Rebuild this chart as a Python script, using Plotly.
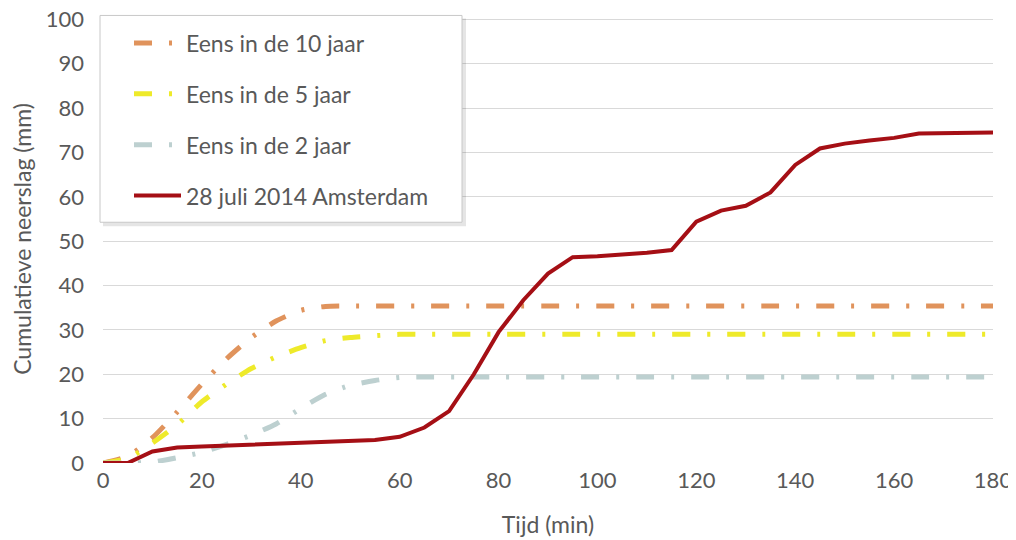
import plotly.graph_objects as go

# Time axis (minutes)
minutes = list(range(0, 185, 5))

# Design storms (cumulative precipitation, mm)
eens_10 = [0, 1.5, 5.7, 11.5, 17.8, 23.5, 28.3, 32.0, 34.4, 35.3, 35.4, 35.4, 35.4, 35.4, 35.4,
           35.4, 35.4, 35.4, 35.4, 35.4, 35.4, 35.4, 35.4, 35.4, 35.4, 35.4, 35.4, 35.4, 35.4,
           35.4, 35.4, 35.4, 35.4, 35.4, 35.4, 35.4, 35.4]
eens_5 = [0, 1.0, 4.5, 8.6, 13.8, 17.8, 21.3, 23.9, 26.0, 27.6, 28.3, 28.7, 29.0, 29.0, 29.0,
          29.0, 29.0, 29.0, 29.0, 29.0, 29.0, 29.0, 29.0, 29.0, 29.0, 29.0, 29.0, 29.0, 29.0,
          29.0, 29.0, 29.0, 29.0, 29.0, 29.0, 29.0, 29.0]
eens_2 = [0, 0, 0.2, 1.2, 2.4, 4.2, 6.3, 8.8, 12.3, 15.5, 17.5, 18.6, 19.3, 19.4, 19.4,
          19.4, 19.4, 19.4, 19.4, 19.4, 19.4, 19.4, 19.4, 19.4, 19.4, 19.4, 19.4, 19.4, 19.4,
          19.4, 19.4, 19.4, 19.4, 19.4, 19.4, 19.4, 19.4]
# Observed 28 July 2014 Amsterdam
amsterdam = [0, 0, 2.6, 3.5, 3.7, 3.9, 4.2, 4.4, 4.6, 4.8, 5.0, 5.2, 5.9, 8.0, 11.7, 20.0,
             29.5, 36.7, 42.7, 46.4, 46.6, 46.9, 47.4, 48.0, 54.4, 56.9, 58.0, 61.0, 67.2, 70.9,
             72.0, 72.7, 73.3, 74.3, 74.3, 74.5, 74.5]

names = ["Eens in de 10 jaar", "Eens in de 5 jaar", "Eens in de 2 jaar", "28 juli 2014 Amsterdam"]
colors = ["#E0935C", "#EEEA2A", "#BDD0D0", "#A50F15"]

x_ticks = list(range(0, 181, 20))
y_ticks = list(range(0, 101, 10))
Y_MAX = 101.0  # small headroom so the 100 gridline/label is drawn

# Geometry: the page body adds an 8px offset, so target screen pixels are shifted back
W, H = 1016, 540
OFF = 8
PL, PR, PB = 103, 993, 463          # plot area in screen pixels
Y100 = 19                           # screen pixel of the 100 gridline
PT = PB - (PB - Y100) * Y_MAX / 100.0
ML, MT = PL - OFF, PT - OFF
MR, MB = W - (PR - OFF), H - (PB - OFF)
PW, PH = PR - PL, PB - PT


def px_x(p):
    return (p - PL) / PW


def px_y(p):
    return (PB - p) / PH


fig = go.Figure()
dash = "18px,17px,3px,17px"
for i, ys in enumerate([eens_10, eens_5, eens_2]):
    fig.add_trace(go.Scatter(
        x=minutes, y=ys, name=names[i], mode="lines", legendgroup=f"g{i}",
        line=dict(color=colors[i], width=5, dash=dash, shape="spline", smoothing=0.6),
    ))
fig.add_trace(go.Scatter(
    x=minutes, y=amsterdam, name=names[3], mode="lines", legendgroup="g3",
    line=dict(color=colors[3], width=4),
))

font_family = "Lato, 'Open Sans', sans-serif"
grey = "#595959"

# legend frame with a soft shadow
shapes = [
    dict(type="rect", xref="paper", yref="paper", layer="above",
         x0=px_x(103), x1=px_x(466), y0=px_y(226), y1=px_y(18),
         fillcolor="rgba(0,0,0,0.10)", line=dict(width=0)),
    dict(type="rect", xref="paper", yref="paper", layer="above",
         x0=px_x(100), x1=px_x(462), y0=px_y(222), y1=px_y(15),
         fillcolor="white", line=dict(color="#C8C8C8", width=1)),
]

fig.update_layout(
    width=W, height=H,
    margin=dict(l=ML, r=MR, t=MT, b=MB),
    paper_bgcolor="white", plot_bgcolor="white",
    font=dict(family=font_family, color=grey, size=20),
    showlegend=True,
    shapes=shapes,
    legend=dict(
        x=px_x(129), y=px_y(21), xanchor="left", yanchor="top",
        bgcolor="rgba(0,0,0,0)", borderwidth=0,
        font=dict(family=font_family, size=23, color=grey),
        tracegroupgap=18, itemwidth=47,
    ),
    xaxis=dict(
        range=[0, 180], tickvals=x_ticks, ticktext=[str(v) for v in x_ticks],
        showgrid=False, zeroline=False, showline=False, automargin=False,
        tickfont=dict(size=22, color=grey), ticks="", ticklen=0, ticklabelstandoff=2,
        ticklabeloverflow="allow",
        title=dict(text="Tijd (min)", font=dict(size=23, color=grey), standoff=24),
    ),
    yaxis=dict(
        range=[0, Y_MAX], tickvals=y_ticks, ticktext=[str(v) for v in y_ticks],
        showgrid=True, gridcolor="#D9D9D9", gridwidth=1, zeroline=False, showline=False,
        automargin=False, ticklabeloverflow="allow",
        tickfont=dict(size=22, color=grey), ticks="", ticklen=0, ticklabelstandoff=18,
        title=dict(text="Cumulatieve neerslag (mm)", font=dict(size=23, color=grey), standoff=19),
    ),
)

fig.write_html("out.html")
